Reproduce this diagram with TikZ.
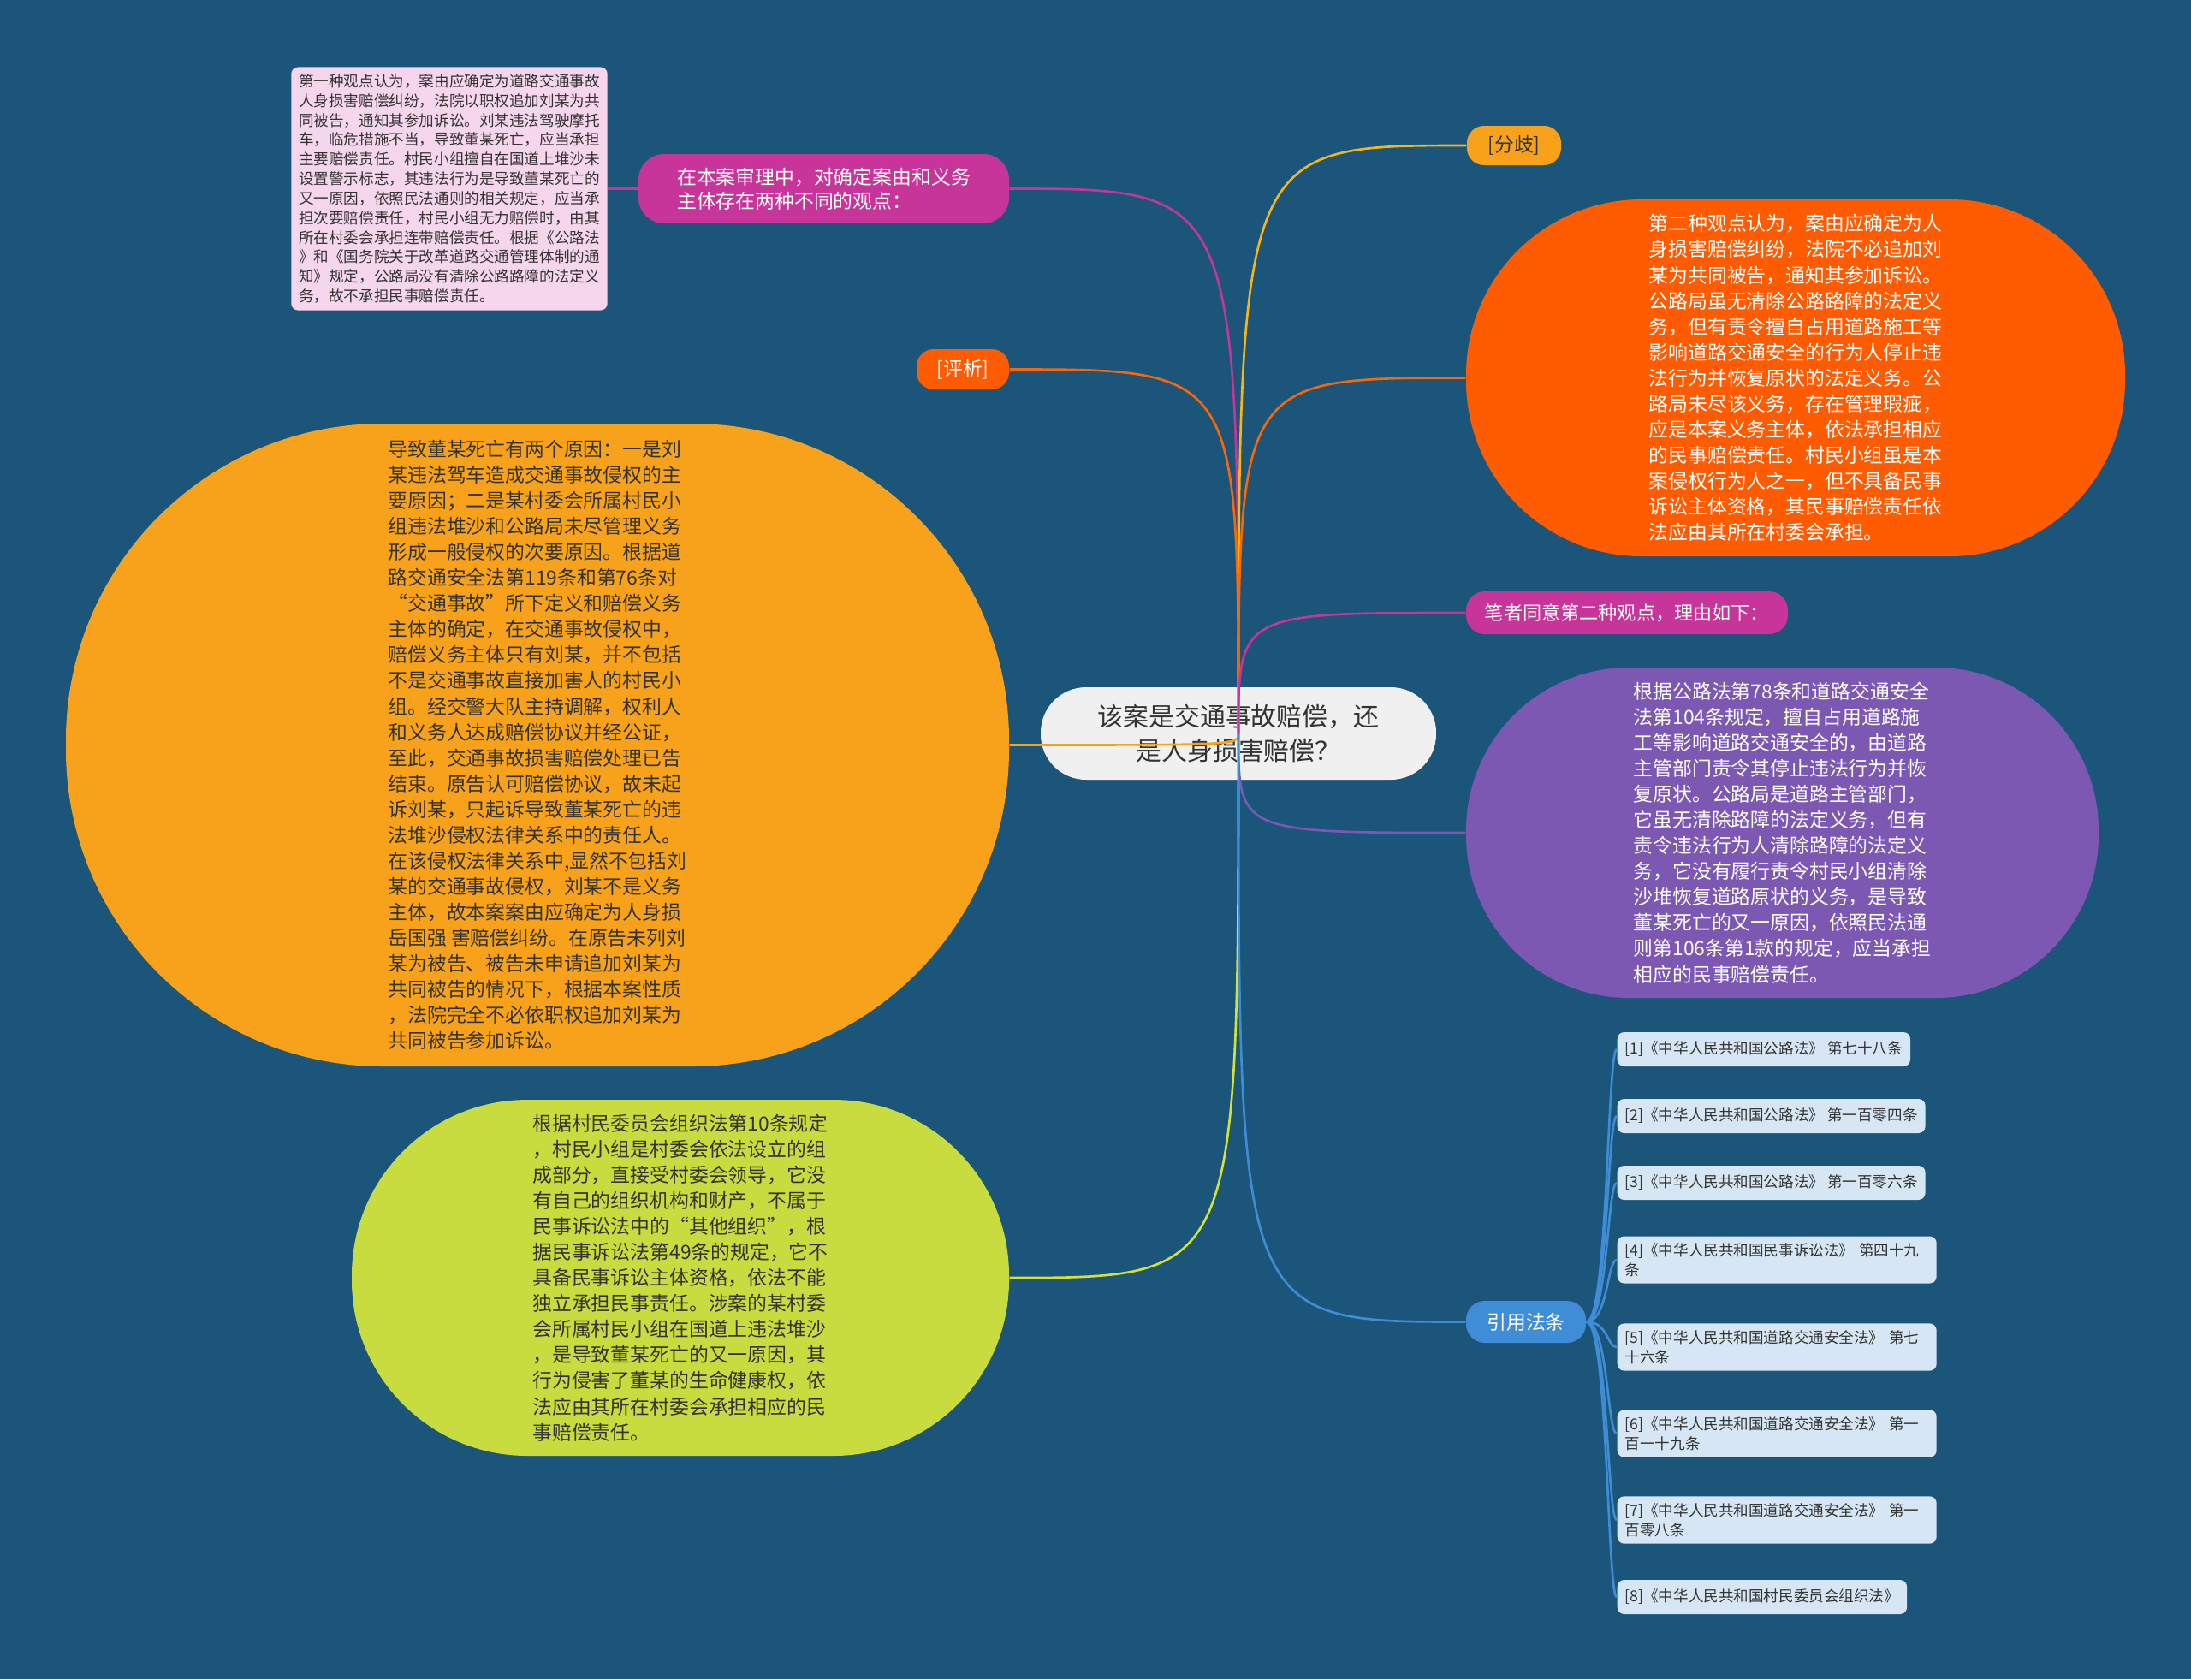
\documentclass[tikz,border=0pt]{standalone}
\usepackage{fontspec}
\setmainfont{Noto Sans CJK SC}
\usepackage{xcolor}
\usetikzlibrary{positioning}
\definecolor{bgc}{HTML}{1B5579}
\definecolor{midc}{HTML}{F0F0F0}
\definecolor{magc}{HTML}{C7359B}
\definecolor{notec}{HTML}{F5D6EC}
\definecolor{ambc}{HTML}{F8A21C}
\definecolor{redc}{HTML}{FF5B00}
\definecolor{purc}{HTML}{7D58B3}
\definecolor{limc}{HTML}{C9DC3F}
\definecolor{bluc}{HTML}{3F8DD6}
\definecolor{refc}{HTML}{D6E6F4}
\definecolor{darkt}{HTML}{333333}
\newcommand{\bigtxt}{\fontsize{6.5pt}{8.55pt}\selectfont}
\newcommand{\tinytxt}{\fontsize{5pt}{6.5pt}\selectfont}

\begin{document}
\begin{tikzpicture}[
  blob/.style={align=left, inner sep=0pt, font=\bigtxt},
  pill/.style={align=left, inner sep=0pt, font=\bigtxt, text=white},
  refbox/.style={fill=refc, rounded corners=0.08cm, anchor=west, align=left,
    inner xsep=0.09cm, inner ysep=0.08cm, minimum height=0.40cm, font=\tinytxt, text=darkt},
  link/.style={line width=0.75pt}
]
  \fill[bgc] (0,0) rectangle (25.6,-19.62);
  \useasboundingbox (0,0) rectangle (25.6,-19.62);

  % root
  \node[fill=midc, rounded corners=0.53cm, minimum width=4.62cm, minimum height=1.08cm,
    align=center, inner sep=0pt, text=darkt, font=\fontsize{8.5pt}{11.4pt}\selectfont]
    (c) at (14.47,-8.57){该案是交通事故赔偿，还\\是人身损害赔偿？};

  % left side
  \node[pill, fill=magc, rounded corners=0.3cm, minimum width=4.33cm, minimum height=0.81cm,
    font=\fontsize{6.5pt}{8pt}\selectfont] (pa) at (9.625,-2.205)
    {在本案审理中，对确定案由和义务\\主体存在两种不同的观点：};
  \node[fill=notec, rounded corners=0.08cm, align=left, inner xsep=0.09cm, inner ysep=0.08cm,
    font=\tinytxt, text=darkt] (na) at (5.25,-2.205)
    {第一种观点认为，案由应确定为道路交通事故\\人身损害赔偿纠纷，法院以职权追加刘某为共\\同被告，通知其参加诉讼。刘某违法驾驶摩托\\车，临危措施不当，导致董某死亡，应当承担\\主要赔偿责任。村民小组擅自在国道上堆沙未\\设置警示标志，其违法行为是导致董某死亡的\\又一原因，依照民法通则的相关规定，应当承\\担次要赔偿责任，村民小组无力赔偿时，由其\\所在村委会承担连带赔偿责任。根据《公路法\\》和《国务院关于改革道路交通管理体制的通\\知》规定，公路局没有清除公路路障的法定义\\务，故不承担民事赔偿责任。};
  \node[pill, fill=redc, rounded corners=0.2cm, minimum width=1.08cm, minimum height=0.47cm]
    (pj) at (11.25,-4.315){[评析]};
  \node[blob, fill=ambc, rounded corners=3.7cm, minimum width=11.02cm, minimum height=7.51cm,
    text=darkt] (rs) at (6.28,-8.705)
    {导致董某死亡有两个原因：一是刘\\某违法驾车造成交通事故侵权的主\\要原因；二是某村委会所属村民小\\组违法堆沙和公路局未尽管理义务\\形成一般侵权的次要原因。根据道\\路交通安全法第119条和第76条对\\“交通事故”所下定义和赔偿义务\\主体的确定，在交通事故侵权中，\\赔偿义务主体只有刘某，并不包括\\不是交通事故直接加害人的村民小\\组。经交警大队主持调解，权利人\\和义务人达成赔偿协议并经公证，\\至此，交通事故损害赔偿处理已告\\结束。原告认可赔偿协议，故未起\\诉刘某，只起诉导致董某死亡的违\\法堆沙侵权法律关系中的责任人。\\在该侵权法律关系中,显然不包括刘\\某的交通事故侵权，刘某不是义务\\主体，故本案案由应确定为人身损\\岳国强 害赔偿纠纷。在原告未列刘\\某为被告、被告未申请追加刘某为\\共同被告的情况下，根据本案性质\\，法院完全不必依职权追加刘某为\\共同被告参加诉讼。};
  \node[blob, fill=limc, rounded corners=2.05cm, minimum width=7.68cm, minimum height=4.16cm,
    text=darkt] (gp) at (7.95,-14.93)
    {根据村民委员会组织法第10条规定\\，村民小组是村委会依法设立的组\\成部分，直接受村委会领导，它没\\有自己的组织机构和财产，不属于\\民事诉讼法中的“其他组织”，根\\据民事诉讼法第49条的规定，它不\\具备民事诉讼主体资格，依法不能\\独立承担民事责任。涉案的某村委\\会所属村民小组在国道上违法堆沙\\，是导致董某死亡的又一原因，其\\行为侵害了董某的生命健康权，依\\法应由其所在村委会承担相应的民\\事赔偿责任。};

  % right side
  \node[pill, fill=ambc, text=darkt, rounded corners=0.2cm, minimum width=1.10cm, minimum height=0.46cm]
    (fq) at (17.69,-1.70){[分歧]};
  \node[blob, fill=redc, rounded corners=2.05cm, minimum width=7.70cm, minimum height=4.17cm,
    text=white] (v2) at (20.98,-4.415)
    {第二种观点认为，案由应确定为人\\身损害赔偿纠纷，法院不必追加刘\\某为共同被告，通知其参加诉讼。\\公路局虽无清除公路路障的法定义\\务，但有责令擅自占用道路施工等\\影响道路交通安全的行为人停止违\\法行为并恢复原状的法定义务。公\\路局未尽该义务，存在管理瑕疵，\\应是本案义务主体，依法承担相应\\的民事赔偿责任。村民小组虽是本\\案侵权行为人之一，但不具备民事\\诉讼主体资格，其民事赔偿责任依\\法应由其所在村委会承担。};
  \node[pill, fill=magc, rounded corners=0.22cm, minimum width=3.76cm, minimum height=0.50cm,
    font=\fontsize{6.3pt}{8pt}\selectfont] (ag) at (19.01,-7.16){笔者同意第二种观点，理由如下：};
  \node[blob, fill=purc, rounded corners=1.9cm, minimum width=7.39cm, minimum height=3.86cm,
    text=white] (bs) at (20.825,-9.73)
    {根据公路法第78条和道路交通安全\\法第104条规定，擅自占用道路施\\工等影响道路交通安全的，由道路\\主管部门责令其停止违法行为并恢\\复原状。公路局是道路主管部门，\\它虽无清除路障的法定义务，但有\\责令违法行为人清除路障的法定义\\务，它没有履行责令村民小组清除\\沙堆恢复道路原状的义务，是导致\\董某死亡的又一原因，依照民法通\\则第106条第1款的规定，应当承担\\相应的民事赔偿责任。};
  \node[pill, fill=bluc, rounded corners=0.22cm, minimum width=1.40cm, minimum height=0.49cm]
    (lw) at (17.83,-15.445){引用法条};

  \node[refbox] (r1) at (18.89,-12.26){[1]《中华人民共和国公路法》 第七十八条};
  \node[refbox] (r2) at (18.89,-13.04){[2]《中华人民共和国公路法》 第一百零四条};
  \node[refbox] (r3) at (18.89,-13.82){[3]《中华人民共和国公路法》 第一百零六条};
  \node[refbox, text width=3.55cm] (r4) at (18.89,-14.72){[4]《中华人民共和国民事诉讼法》 第四十九\\条};
  \node[refbox, text width=3.55cm] (r5) at (18.89,-15.74){[5]《中华人民共和国道路交通安全法》 第七\\十六条};
  \node[refbox, text width=3.55cm] (r6) at (18.89,-16.75){[6]《中华人民共和国道路交通安全法》 第一\\百一十九条};
  \node[refbox, text width=3.55cm] (r7) at (18.89,-17.76){[7]《中华人民共和国道路交通安全法》 第一\\百零八条};
  \node[refbox] (r8) at (18.89,-18.66){[8]《中华人民共和国村民委员会组织法》};

  % connectors
  \draw[link, magc] (c.center) .. controls (c.center |- pa.east) .. (pa.east);
  \draw[link, magc] (pa.west) -- (na.east);
  \draw[link, redc!85!ambc] (c.center) .. controls (c.center |- pj.east) .. (pj.east);
  \draw[link, ambc] (c.center) .. controls (c.center |- rs.east) .. (rs.east);
  \draw[link, limc!80!yellow] (c.center) .. controls (c.center |- gp.east) .. (gp.east);
  \draw[link, ambc!80!yellow] (c.center) .. controls (c.center |- fq.west) .. (fq.west);
  \draw[link, redc!85!ambc] (c.center) .. controls (c.center |- v2.west) .. (v2.west);
  \draw[link, magc] (c.center) .. controls (c.center |- ag.west) .. (ag.west);
  \draw[link, purc] (c.center) .. controls (c.center |- bs.west) .. (bs.west);
  \draw[link, bluc] (c.center) .. controls (c.center |- lw.west) .. (lw.west);
  \foreach \r in {r1,r2,r3,r4,r5,r6,r7,r8}
    \draw[link, bluc] (lw.east) .. controls +(0.25,0) and +(-0.11,0) .. (\r.west);
\end{tikzpicture}
\end{document}
